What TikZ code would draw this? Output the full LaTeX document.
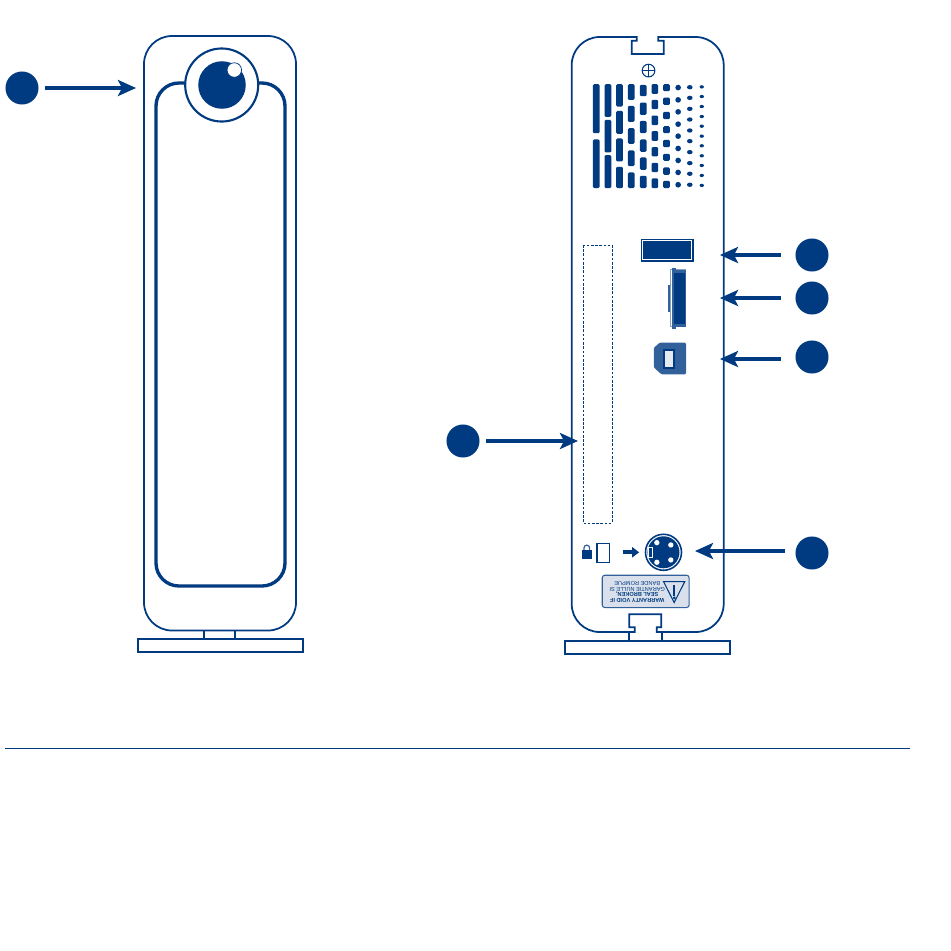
\documentclass[tikz,border=0pt]{standalone}
\usepackage{fontspec}
\setmainfont{Liberation Sans}
\usetikzlibrary{arrows.meta}
\definecolor{lc}{HTML}{003A80}
\definecolor{mid}{HTML}{32609A}
\definecolor{lab}{HTML}{D9E0EC}
\tikzset{
  x=0.01cm,y=-0.01cm,
  body/.style={draw=lc,line width=0.5pt,fill=white},
  thickbody/.style={draw=lc,line width=0.95pt},
  basebar/.style={draw=lc,line width=0.65pt,fill=white},
  num/.style={circle,fill=lc,draw=none,minimum size=0.33cm,inner sep=0pt},
  callout/.style={draw=lc,line width=0.9pt,-{Stealth[length=0.18cm,width=0.16cm,inset=0.04cm]}},
  zoomed/.style={shift={(560,25)},x=0.003333cm,y=-0.003333cm},
  zoomedb/.style={shift={(560,520)},x=0.003333cm,y=-0.003333cm},
  zoomedc/.style={shift={(630,230)},x=0.003333cm,y=-0.003333cm},
}
\begin{document}
\begin{tikzpicture}
\useasboundingbox (0,0) rectangle (950,951);
\fill[white] (0,0) rectangle (950,951);

% ---------- front view
\draw[basebar] (137.7,638.7) rectangle (302.7,652);
\draw[basebar] (204,630) -- (204,638.7) (235,630) -- (235,638.7);
\draw[body,rounded corners=0.28cm] (144,36) rectangle (296,630.5);
\draw[thickbody,rounded corners=0.23cm] (156,83) rectangle (285,586);
\node[circle,draw=lc,fill=white,line width=0.6pt,minimum size=0.73cm,inner sep=0pt] (ring) at (221.7,85) {};
\node[circle,fill=lc,minimum size=0.475cm,inner sep=0pt] (eye) at (222,85) {};
\node[circle,fill=white,draw=lc,line width=0.2pt,minimum size=0.145cm,inner sep=0pt] (glint) at (234.3,70) {};

% ---------- back view outline with notches
\draw[body] (571.7,65)
  arc[start angle=180,end angle=270,radius=28]
  -- (636.7,37) -- (636.7,40.7) -- (631.7,40.7) -- (631.7,54) -- (663.7,54) -- (663.7,40.7) -- (658.3,40.7) -- (658.3,37)
  -- (695.7,37) arc[start angle=270,end angle=360,radius=28]
  -- (723.7,604) arc[start angle=0,end angle=90,radius=28]
  -- (656.7,632) -- (656.7,627.3) -- (661.3,627.3) -- (661.3,614.3) -- (629.3,614.3) -- (629.3,627.3) -- (634.7,627.3) -- (634.7,632)
  -- (599.7,632) arc[start angle=90,end angle=180,radius=28] -- cycle;
\draw[basebar] (565,641) rectangle (730,654.3);
\draw[basebar] (629,632) -- (629,641) (661.7,632) -- (661.7,641);

\begin{scope}[zoomed]
  \node[circle,draw=lc,line width=0.3pt,minimum size=0.127cm,inner sep=0pt] (screw) at (266,137) {};
  \draw[lc,line width=0.25pt] (247,137) -- (285,137) (266,118) -- (266,156);
  % vent slots
  \foreach \xx/\list in {
     109/{178/325,344/490},
     144/{178/276,285/383,391/490},
     179/{178/245,258/327,341/410,426/490},
     214/{178/225,243/291,310/357,377/424,443/490},
     250/{180/214,233/270,288/325,344/381,398/435,453/490},
     285/{178/207,225/253,272/301,319/348,367/395,414/442,461/490},
     320/{178/199,218/240,261/283,304/325,345/367,387/408,428/450,468/490}}{
    \foreach \ya/\yb in \list {
      \fill[lc,rounded corners=0.012cm] (\xx-10,\ya) rectangle (\xx+10,\yb);
    }
  }
  \foreach \yy in {188,225,261,298,334,371,407,443,480} \fill[lc] (355,\yy) circle[radius=8.5];
  \foreach \yy in {187,219,252,284,317,349,382,415,447,480} \fill[lc] (390,\yy) ellipse[x radius=8.5,y radius=6.5];
  \foreach \yy in {186,215,245,275,304,334,363,393,422,452,482} \fill[lc] (426,\yy) ellipse[x radius=6.5,y radius=5];
\end{scope}

% ---------- ports
\begin{scope}[zoomedc]
  \draw[lc,line width=0.45pt,fill=white] (34,28) rectangle (190,94);
  \fill[lc] (40,34) rectangle (184,88);
  \fill[mid] (114,165) rectangle (121,245);
  \draw[mid!60,line width=0.3pt] (121,120) rectangle (168,290);
  \fill[mid] (127,114) rectangle (139,298);
  \fill[mid] (127,120) rectangle (168,290);
  \fill[lc] (133,128) rectangle (164,282);
  \draw[lc!80,fill=mid,line width=0.3pt,rounded corners=0.01cm] (73,355) -- (90,340) -- (167,340) -- (167,432) -- (95,432) -- (73,412) -- cycle;
  \draw[lc,fill=lab!70,line width=0.45pt] (103,361) rectangle (132,414);
\end{scope}

\draw[draw=lc,line width=0.22pt,dash pattern=on 0.75pt off 0.45pt] (583,245) rectangle (612,523);

\begin{scope}[zoomedb]
  % lock
  \draw[mid,line width=0.35pt] (72,90) -- (72,84) arc[start angle=180,end angle=360,radius=8.5] -- (89,90);
  \fill[lc] (65,90) rectangle (96,118);
  \draw[lc,line width=0.45pt] (112,70) rectangle (149,128);
  % small arrow
  \node[inner sep=0pt,minimum size=0pt] (smalla) at (186,97) {};
  \node[inner sep=0pt,minimum size=0pt] (smallb) at (240,97) {};
  \draw[lc,line width=1.1pt,-{Triangle[length=0.07cm,width=0.1cm]}] (smalla) -- (smallb);
  % power socket
  \node[circle,draw=lc,fill=white,line width=0.45pt,minimum size=0.36cm,inner sep=0pt] (psout) at (311,97) {};
  \node[circle,fill=lc,minimum size=0.32cm,inner sep=0pt] (psin) at (311,97) {};
  \foreach \dx/\dy in {-20/-29,22/-22,-20/30,22/23} \fill[white] (311+\dx,97+\dy) circle[radius=8];
  \draw[white,line width=0.3pt] (266,84) rectangle (278,114);
  % warranty label
  \draw[mid,fill=lab,line width=0.3pt,rounded corners=0.025cm] (127,166) rectangle (388,263);
  \draw[lc,line width=0.3pt] (311,185) -- (375,185) -- (343,248) -- cycle;
  \fill[lc] (340,195) rectangle (347,227);
  \fill[lc] (343.5,234) circle[radius=4.5];
  \node[rotate=180,font=\fontsize{1.6pt}{1.6pt}\selectfont,text=lc,align=center,inner sep=0pt] (wtext) at (232,216) {\textbf{WARRANTY VOID IF}\\ \textbf{SEAL BROKEN,}\\ GARANTIE NULLE SI\\ BANDE ROMPUE};
\end{scope}

% ---------- callouts
\node[num] (n1) at (22,88) {};
\node[num] (n2) at (812,255) {};
\node[num] (n3) at (812,298) {};
\node[num] (n4) at (812,357) {};
\node[num] (n5) at (463,441) {};
\node[num] (n6) at (812,553) {};
\coordinate (t1) at (136,88);
\coordinate (t2) at (720,255);
\coordinate (t3) at (720,298);
\coordinate (t4) at (720,359);
\coordinate (t5) at (578,441);
\coordinate (t6) at (695,551);
\draw[callout,shorten <=0.06cm] (n1.east) -- (t1);
\draw[callout,shorten <=0.14cm] (n2.west) -- (t2);
\draw[callout,shorten <=0.14cm] (n3.west) -- (t3);
\draw[callout,shorten <=0.14cm] (n4.west |- t4) -- (t4);
\draw[callout,shorten <=0.06cm] (n5.east) -- (t5);
\draw[callout,shorten <=0.10cm] (n6.west |- t6) -- (t6);

% ---------- rule
\coordinate (r1) at (5,748);
\coordinate (r2) at (910,748);
\draw[lc,line width=0.28pt] (r1) -- (r2);
\end{tikzpicture}
\end{document}
